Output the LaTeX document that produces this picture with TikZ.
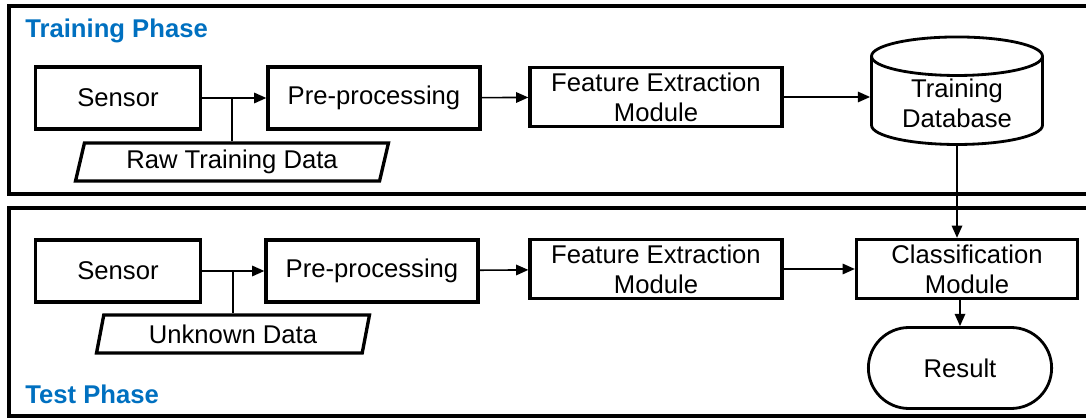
\documentclass[tikz,border=0pt]{standalone}
\usepackage{fontspec}
\setmainfont{Liberation Sans}
\usetikzlibrary{shapes.geometric,shapes.misc,arrows.meta}
\definecolor{phaseblue}{RGB}{0,112,192}
\tikzstyle{blk}=[draw,rectangle,line width=1.9pt,align=center,inner sep=1pt]
\tikzstyle{io}=[draw,trapezium,trapezium left angle=72,trapezium right angle=108,trapezium stretches body,line width=1.9pt,inner sep=1pt]
\tikzstyle{store}=[draw,cylinder,shape border rotate=90,aspect=0.34,line width=1.6pt,align=center,inner sep=1pt]
\tikzstyle{res}=[draw,rounded rectangle,line width=1.6pt]
\tikzstyle{ed}=[-{Triangle[length=7pt,width=6pt]},line width=0.9pt]
\tikzstyle{frm}=[line width=2pt]
\tikzstyle{ttl}=[font=\fontsize{14.6}{17}\selectfont\bfseries,text=phaseblue,anchor=base west,inner sep=0pt]

\begin{document}
\begin{tikzpicture}[x=0.02cm,y=-0.02cm,font=\fontsize{14.6}{17}\selectfont]
  \useasboundingbox (0,0) rectangle (1086,418);
  \draw[frm] (9,6) rectangle (1100,194);
  \draw[frm] (9,208) rectangle (1100,416);
  \node[ttl] (trainlbl) at (25,38) {Training Phase};
  \node[ttl] (testlbl) at (25,404) {Test Phase};

  % training phase
  \node[blk,minimum width=3.3cm,minimum height=1.24cm] (sensor1) at (118,98) {Sensor};
  \node[blk,minimum width=4.24cm,minimum height=1.24cm] (pre1) at (374,98) {Pre-processing};
  \node[blk,minimum width=5.04cm,minimum height=1.18cm] (fem1) at (656,97) {Feature Extraction\\Module};
  \node[store,minimum width=3.42cm,minimum height=2.1cm] (db) at (957,103) {Training\\Database};
  \node[io,minimum width=6.26cm,minimum height=0.76cm] (raw) at (232,162) {Raw Training Data};

  % test phase
  \node[blk,minimum width=3.3cm,minimum height=1.24cm] (sensor2) at (118,271) {Sensor};
  \node[blk,minimum width=4.24cm,minimum height=1.24cm] (pre2) at (372,271) {Pre-processing};
  \node[blk,minimum width=5.04cm,minimum height=1.18cm] (fem2) at (656,269) {Feature Extraction\\Module};
  \node[blk,minimum width=4.42cm,minimum height=1.18cm] (cls) at (967,269) {Classification\\Module};
  \node[res,minimum width=3.9cm,minimum height=1.62cm] (result) at (960,368) {Result};
  \node[io,minimum width=5.46cm,minimum height=0.76cm] (unk) at (233,334) {Unknown Data};

  \coordinate (j1) at (sensor1.east -| raw.north);
  \coordinate (j2) at (sensor2.east -| unk.north);

  \path (sensor1) edge [ed] (pre1);
  \path (pre1) edge [ed] (fem1);
  \path (fem1.east) edge [ed] (db.west |- fem1.east);
  \path (raw.north) edge [line width=0.9pt] (j1);
  \path (db.south) edge [ed] (db.south |- cls.north);

  \path (sensor2) edge [ed] (pre2);
  \path (pre2) edge [ed] (fem2);
  \path (fem2) edge [ed] (cls);
  \path (unk.north) edge [line width=0.9pt] (j2);
  \path (result.north |- cls.south) edge [ed] (result.north);
\end{tikzpicture}
\end{document}
